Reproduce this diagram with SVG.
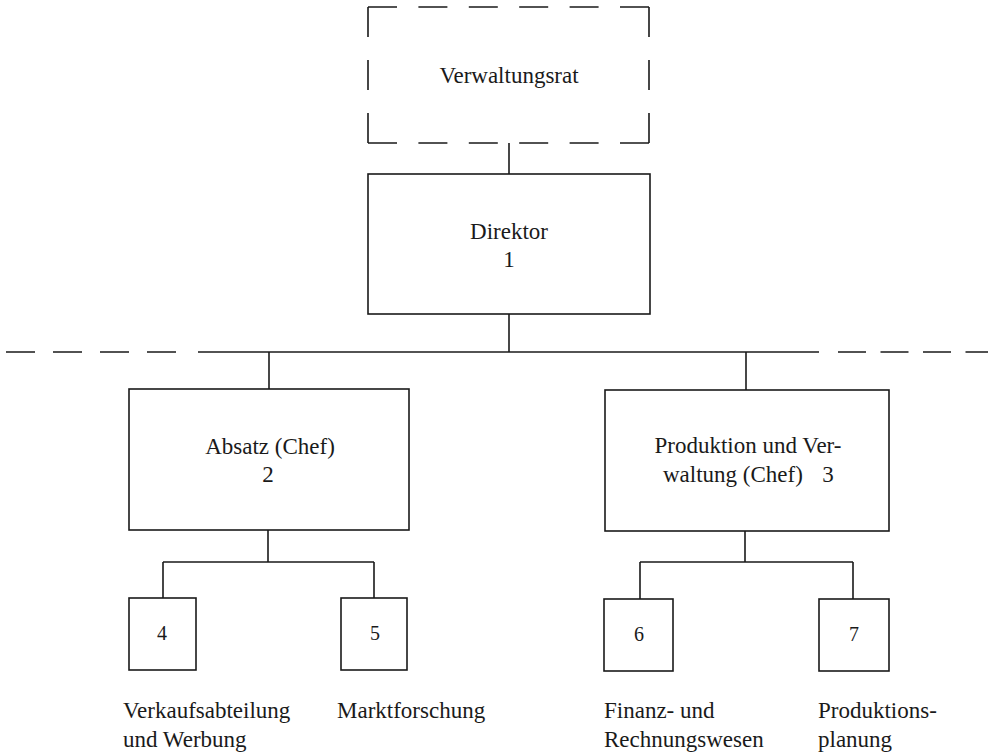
<svg xmlns="http://www.w3.org/2000/svg" width="988" height="753" viewBox="0 0 988 753">
<style>
.box{fill:none;stroke:#1a1a1a;stroke-width:1.6}
.ln{fill:none;stroke:#1a1a1a;stroke-width:1.6}
.t{font-family:"Liberation Serif","Times New Roman",serif;font-size:23px;fill:#1a1a1a}
.n{font-family:"Liberation Serif","Times New Roman",serif;font-size:20px;fill:#1a1a1a;text-anchor:middle}
.c{text-anchor:middle}
</style>
<rect width="988" height="753" fill="#fff"/>
<g id="separator">
<path class="ln" d="M6 352 H176" stroke-dasharray="29 18"/>
<path class="ln" d="M838 352 H988" stroke-dasharray="28 14.5"/>
</g>
<g id="connectors">
<path class="ln" d="M509 143 V174"/>
<path class="ln" d="M509 314 V352"/>
<path class="ln" d="M198 352 H819"/>
<path class="ln" d="M269 352 V389"/>
<path class="ln" d="M746 352 V390"/>
<path class="ln" d="M268 530 V562 M163 562 H374 M163 562 V598 M374 562 V598"/>
<path class="ln" d="M745 531 V562 M640 562 H853 M640 562 V599 M853 562 V599"/>
</g>
<g id="node-verwaltungsrat">
<path class="ln" d="M368 7 H649 M368 143 H649" stroke-dasharray="29 21.4"/>
<path class="ln" d="M368 7 V143 M649 7 V143" stroke-dasharray="30 23"/>
<text class="t c" x="509" y="83">Verwaltungsrat</text>
</g>
<g id="node-direktor">
<rect class="box" x="368" y="174" width="282" height="140"/>
<text class="t c" x="509" y="239">Direktor</text>
<text class="t c" x="509" y="267">1</text>
</g>
<g id="node-absatz">
<rect class="box" x="129" y="389" width="280" height="141"/>
<text class="t c" x="270" y="454">Absatz (Chef)</text>
<text class="t c" x="268" y="482">2</text>
</g>
<g id="node-produktion">
<rect class="box" x="605" y="390" width="284" height="141"/>
<text class="t c" x="748" y="453">Produktion und Ver-</text>
<text class="t" x="663" y="482">waltung (Chef)</text>
<text class="t c" x="828" y="482">3</text>
</g>
<g id="node-4">
<rect class="box" x="129" y="598" width="67" height="72"/>
<text class="n" x="162" y="640">4</text>
<text class="t" x="123" y="718">Verkaufsabteilung</text>
<text class="t" x="123" y="747">und Werbung</text>
</g>
<g id="node-5">
<rect class="box" x="341" y="598" width="66" height="72"/>
<text class="n" x="375" y="640">5</text>
<text class="t" x="337" y="718">Marktforschung</text>
</g>
<g id="node-6">
<rect class="box" x="604" y="599" width="69" height="72"/>
<text class="n" x="639" y="641">6</text>
<text class="t" x="604" y="718">Finanz- und</text>
<text class="t" x="604" y="747">Rechnungswesen</text>
</g>
<g id="node-7">
<rect class="box" x="819" y="599" width="70" height="72"/>
<text class="n" x="854" y="641">7</text>
<text class="t" x="818" y="718">Produktions-</text>
<text class="t" x="818" y="747">planung</text>
</g>
</svg>
